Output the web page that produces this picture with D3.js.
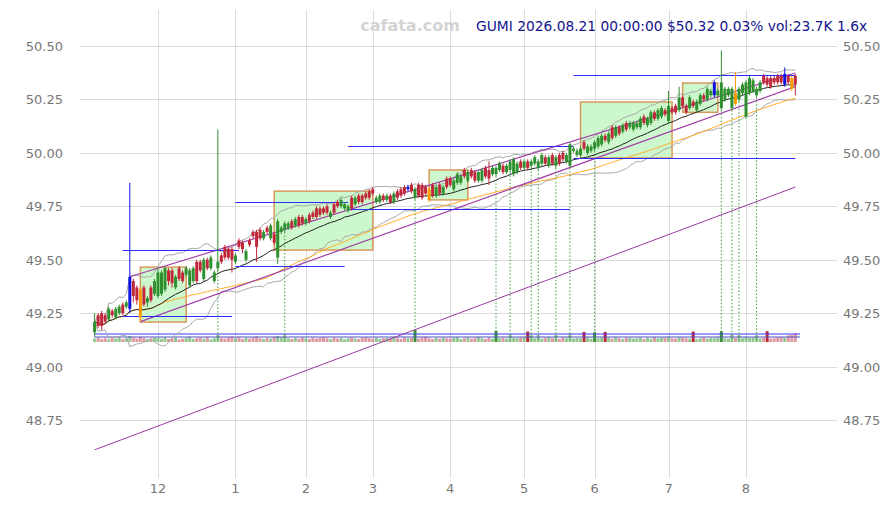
<!DOCTYPE html>
<html><head><meta charset="utf-8">
<script src="https://cdn.jsdelivr.net/npm/d3@7"></script>
<style>body{margin:0;background:#fff}svg{display:block}</style>
</head><body><svg id="c" width="893" height="505"></svg>
<script>
// ---------- data ----------
const startDate = "2025-11-04", endDate = "2026-08-21";
const holidays = ["2025-11-27","2025-12-25","2026-01-01","2026-01-19","2026-02-16","2026-04-03","2026-05-25","2026-06-19","2026-07-03"];

const open = [
49.16,49.24,49.25,49.24,49.22,49.26,49.23,49.25,49.29,49.28,49.27,49.40,49.37,49.36,49.37,49.30,49.37,49.34,
49.33,49.34,49.36,49.45,49.45,49.37,49.46,49.44,49.43,49.38,49.40,49.49,49.49,49.41,49.50,49.46,49.40,49.46,49.52,49.56,49.55,49.55,
49.49,49.59,49.58,49.50,49.59,49.63,49.63,49.64,49.60,49.65,49.60,49.62,49.51,49.63,49.64,49.65,49.68,49.66,49.70,49.70,
49.67,49.71,49.72,49.74,49.74,49.74,49.75,49.70,49.76,49.77,49.75,49.74,49.73,49.79,49.76,49.80,49.80,49.81,49.82,
49.83,49.77,49.77,49.80,49.78,49.80,49.77,49.82,49.83,49.84,49.83,49.85,49.79,49.85,49.85,49.84,49.83,49.85,49.80,49.85,49.81,49.88,
49.88,49.83,49.86,49.86,49.92,49.87,49.92,49.91,49.87,49.87,49.93,49.92,49.90,49.90,49.92,49.94,49.91,49.92,49.90,49.91,49.96,
49.93,49.96,49.94,49.95,49.93,49.95,49.98,49.94,49.99,49.94,49.99,50.00,49.96,49.94,50.01,49.99,49.99,50.05,50.00,50.01,
50.02,50.03,50.04,50.08,50.05,50.12,50.08,50.12,50.10,50.14,50.12,50.11,50.12,50.12,50.17,50.13,50.14,50.19,50.16,50.17,50.20,
50.15,50.21,50.22,50.20,50.26,50.22,50.21,50.24,50.20,50.23,50.27,50.25,50.27,50.27,50.27,50.21,50.25,50.27,50.21,50.28,50.25,50.28,
50.17,50.28,50.29,50.27,50.29,50.36,50.35,50.35,50.35,50.36,50.36,50.32,50.36,50.35,50.36];
const close = [
49.21,49.19,49.19,49.21,49.27,49.24,49.27,49.28,49.25,49.30,49.42,49.33,49.31,49.23,49.29,49.32,49.31,49.40,
49.44,49.44,49.46,49.40,49.39,49.42,49.41,49.40,49.46,49.45,49.46,49.40,49.45,49.50,49.46,49.51,49.44,49.49,49.49,49.51,49.51,49.50,
49.52,49.56,49.55,49.54,49.57,49.61,49.56,49.60,49.63,49.63,49.66,49.58,49.68,49.65,49.67,49.67,49.65,49.69,49.66,49.67,
49.69,49.68,49.70,49.70,49.71,49.72,49.72,49.72,49.72,49.75,49.78,49.76,49.75,49.74,49.79,49.77,49.77,49.79,49.79,
49.81,49.79,49.80,49.78,49.80,49.77,49.81,49.79,49.80,49.81,49.84,49.82,49.83,49.80,49.79,49.81,49.78,49.80,49.84,49.81,49.84,49.84,
49.85,49.87,49.90,49.89,49.89,49.91,49.89,49.87,49.91,49.92,49.89,49.88,49.93,49.93,49.95,49.91,49.94,49.96,49.97,49.95,49.93,
49.96,49.93,49.96,49.98,49.96,49.99,49.95,49.98,49.95,49.98,49.95,49.97,49.99,50.04,50.02,50.01,50.02,50.02,50.03,50.03,
50.05,50.07,50.08,50.06,50.09,50.07,50.12,50.09,50.13,50.11,50.14,50.14,50.14,50.16,50.14,50.16,50.19,50.16,50.20,50.21,50.18,
50.22,50.19,50.19,50.26,50.22,50.19,50.26,50.22,50.24,50.27,50.25,50.30,50.29,50.33,50.29,50.33,50.30,50.30,50.30,50.23,50.30,50.32,
50.33,50.35,50.34,50.30,50.33,50.33,50.32,50.31,50.33,50.33,50.33,50.37,50.33,50.30,50.32];
const high = [
49.25,49.25,49.26,49.25,49.28,49.27,49.28,49.29,49.30,49.31,49.86,49.41,49.38,49.37,49.38,49.33,49.38,49.41,
49.46,49.45,49.47,49.46,49.46,49.43,49.47,49.45,49.47,49.46,49.47,49.50,49.50,49.51,49.51,49.52,49.45,50.11,49.53,49.57,49.56,49.56,
49.53,49.60,49.59,49.55,49.60,49.64,49.64,49.65,49.64,49.66,49.67,49.63,49.69,49.66,49.68,49.68,49.69,49.70,49.71,49.71,
49.70,49.72,49.73,49.75,49.75,49.75,49.76,49.73,49.77,49.78,49.79,49.77,49.76,49.80,49.80,49.81,49.81,49.82,49.83,
49.84,49.80,49.81,49.81,49.81,49.81,49.82,49.83,49.84,49.85,49.85,49.86,49.84,49.86,49.86,49.85,49.84,49.86,49.85,49.86,49.85,49.89,
49.89,49.88,49.91,49.90,49.93,49.92,49.93,49.92,49.92,49.93,49.94,49.96,49.94,49.94,49.96,49.95,49.95,49.97,49.98,49.96,49.97,
49.97,49.97,49.97,49.99,49.97,50.00,49.99,49.99,50.00,49.99,50.00,50.01,50.00,50.05,50.03,50.02,50.03,50.06,50.04,50.04,
50.06,50.08,50.09,50.09,50.10,50.13,50.13,50.13,50.14,50.15,50.15,50.15,50.15,50.17,50.18,50.17,50.20,50.20,50.21,50.22,50.21,
50.29,50.22,50.23,50.31,50.27,50.23,50.27,50.25,50.25,50.28,50.28,50.31,50.30,50.34,50.30,50.48,50.31,50.31,50.31,50.38,50.31,50.33,
50.34,50.36,50.35,50.31,50.34,50.37,50.36,50.36,50.36,50.37,50.37,50.40,50.37,50.36,50.37];
const low = [
49.14,49.18,49.17,49.20,49.21,49.23,49.22,49.24,49.24,49.27,49.25,49.30,49.29,49.21,49.28,49.28,49.30,49.33,
49.32,49.33,49.35,49.38,49.37,49.36,49.40,49.39,49.42,49.37,49.39,49.39,49.44,49.40,49.45,49.45,49.39,49.44,49.48,49.50,49.50,49.44,
49.48,49.55,49.53,49.49,49.56,49.60,49.49,49.59,49.59,49.62,49.59,49.57,49.48,49.62,49.63,49.64,49.64,49.65,49.65,49.66,
49.66,49.67,49.69,49.69,49.70,49.71,49.71,49.69,49.71,49.74,49.74,49.73,49.72,49.73,49.75,49.76,49.76,49.78,49.78,
49.80,49.76,49.76,49.77,49.77,49.76,49.76,49.78,49.79,49.80,49.82,49.81,49.78,49.79,49.78,49.80,49.77,49.79,49.79,49.80,49.80,49.83,
49.84,49.82,49.85,49.85,49.88,49.86,49.88,49.86,49.86,49.86,49.88,49.85,49.89,49.89,49.91,49.90,49.90,49.91,49.89,49.90,49.92,
49.92,49.92,49.93,49.94,49.92,49.94,49.94,49.93,49.94,49.93,49.94,49.96,49.95,49.93,50.00,49.98,49.98,50.01,49.99,50.00,
50.01,50.02,50.03,50.05,50.04,50.06,50.07,50.08,50.09,50.10,50.11,50.10,50.11,50.11,50.13,50.12,50.13,50.15,50.15,50.16,50.17,
50.14,50.18,50.18,50.19,50.21,50.18,50.20,50.21,50.19,50.22,50.24,50.24,50.26,50.26,50.26,50.20,50.24,50.26,50.20,50.22,50.24,50.27,
50.16,50.27,50.28,50.26,50.28,50.32,50.31,50.30,50.32,50.32,50.32,50.31,50.32,50.29,50.27];
const volume = [
9,12,8,10,7,11,9,13,8,10,16,12,9,14,11,8,10,12,
11,9,13,8,10,12,7,9,11,14,8,10,12,9,13,7,10,20,11,9,12,14,
10,13,8,11,9,12,15,10,8,11,9,13,16,12,20,10,8,11,9,12,
10,8,12,9,11,13,10,8,12,9,11,7,10,12,9,8,11,13,10,
9,12,8,10,11,9,13,10,8,12,10,11,32,9,12,14,10,8,11,9,12,10,
9,11,13,8,10,12,9,11,14,10,8,12,9,30,10,12,9,20,11,10,12,
12,28,19,10,18,9,11,13,10,19,8,12,10,21,9,11,10,27,12,9,
26,10,12,27,11,9,13,10,8,12,11,9,10,12,8,11,9,13,10,12,11,
14,10,9,12,11,10,9,28,8,10,12,9,11,10,12,29,10,9,20,11,19,10,
14,11,12,18,10,11,29,9,10,12,13,11,18,19,23.7];

const blueIdx = [10, 89, 176, 196];
const orangeIdx = [13, 95, 182, 198];
const signalIdx = [35, 54, 91, 114, 118, 124, 126, 131, 135, 142, 178, 181, 183, 188];
const boxFrom = [13, 51, 95, 138, 167];
const boxTo = [26, 79, 106, 164, 177];
const boxTop = [49.465, 49.821, 49.92, 50.238, 50.327];
const boxBottom = [49.208, 49.545, 49.78, 49.976, 50.19];
const levelFrom = [8, 8, 40, 40, 72, 72, 136, 136];
const levelTo = [41, 39, 71, 72, 135, 136, 199, 199];
const levelValue = [49.545, 49.236, 49.47, 49.77, 49.737, 50.032, 49.976, 50.364];
const trendIdx = [0, 199], trendVal = [48.61, 49.84];
const upperIdx = [10, 199], upperVal = [49.42, 50.374];
const lowerIdx = [13, 199], lowerVal = [49.21, 50.31];
const volLevels = [21.3, 13.3];
const yTicks = [48.75, 49.00, 49.25, 49.50, 49.75, 50.00, 50.25, 50.50];
const title = "GUMI 2026.08.21 00:00:00 $50.32 0.03% vol:23.7K 1.6x";
const watermark = "cafata.com";

// ---------- dates ----------
const fmt = d3.timeFormat("%Y-%m-%d");
const dates = d3.timeDay.range(new Date(startDate + "T00:00"), d3.timeDay.offset(new Date(endDate + "T00:00"), 1))
  .filter(d => d.getDay() !== 0 && d.getDay() !== 6 && !holidays.includes(fmt(d)));

const svg = d3.select("#c");
const x = d3.scalePoint().domain(dates.map(fmt)).range([94.6, 795.3]);
const xi = i => x(fmt(dates[i]));
const y = d3.scaleLinear().domain([48.478, 50.669]).range([478, 10]);
const yv = d3.scaleLinear().domain([0, 32]).range([342, 330]);

// grid
const g = svg.append("g");
g.selectAll("line.h").data(yTicks).join("line")
  .attr("x1", 80).attr("x2", 837).attr("y1", d => Math.round(y(d)) + .5).attr("y2", d => Math.round(y(d)) + .5)
  .attr("stroke", "#dcdcdc").attr("stroke-width", 1);
const monthIdx = dates.map((d, i) => i).filter(i => i > 0 && dates[i].getMonth() !== dates[i - 1].getMonth());
g.selectAll("line.v").data(monthIdx).join("line")
  .attr("x1", i => Math.round(xi(i)) + .5).attr("x2", i => Math.round(xi(i)) + .5).attr("y1", 10).attr("y2", 478)
  .attr("stroke", "#dcdcdc").attr("stroke-width", 1);

// axis labels
const lab = svg.append("g").attr("font-family", "DejaVu Sans, sans-serif").attr("font-size", 13).attr("fill", "#777");
lab.selectAll("text.l").data(yTicks).join("text").attr("x", 63).attr("y", d => y(d) + 5).attr("text-anchor", "end").text(d => d.toFixed(2));
lab.selectAll("text.r").data(yTicks).join("text").attr("x", 843).attr("y", d => y(d) + 5).attr("text-anchor", "start").text(d => d.toFixed(2));
lab.selectAll("text.x").data(monthIdx).join("text").attr("x", i => xi(i)).attr("y", 493).attr("text-anchor", "middle").text(i => dates[i].getMonth() + 1);

// boxes
svg.append("g").selectAll("rect").data(boxFrom).join("rect")
  .attr("x", (d, k) => xi(d)).attr("width", (d, k) => xi(boxTo[k]) - xi(d))
  .attr("y", (d, k) => y(boxTop[k])).attr("height", (d, k) => y(boxBottom[k]) - y(boxTop[k]))
  .attr("fill", "#c8f7c8").attr("fill-opacity", 0.9).attr("stroke", "#d89a5a").attr("stroke-width", 1.5);

// volume
const idx = d3.range(dates.length);
const up = i => close[i] >= open[i];
svg.append("g").selectAll("rect").data(idx).join("rect")
  .attr("x", i => xi(i) - 1.5).attr("width", 3)
  .attr("y", i => yv(volume[i])).attr("height", i => yv(0) - yv(volume[i]))
  .attr("fill", i => volume[i] >= 25 ? (up(i) ? "#2e8b2e" : "#b5202c") : (up(i) ? "#6fb56f" : "#d37a84"))
  .attr("fill-opacity", i => volume[i] >= 25 ? 0.95 : 0.75);
svg.append("g").selectAll("line").data(volLevels).join("line")
  .attr("x1", 94).attr("x2", 800).attr("y1", d => yv(d)).attr("y2", d => yv(d))
  .attr("stroke", (d, k) => k ? "#5050c8" : "#3a3aff").attr("stroke-width", 1.2);

// signal dotted lines
svg.append("g").selectAll("line").data(signalIdx).join("line")
  .attr("x1", i => xi(i)).attr("x2", i => xi(i)).attr("y1", i => y(low[i])).attr("y2", yv(0))
  .attr("stroke", "#3c9a3c").attr("stroke-width", 1).attr("stroke-dasharray", "1.5,2");

// indicators
function sma(n) { return idx.map(i => d3.mean(close.slice(Math.max(0, i - n + 1), i + 1))); }
function sdev(n) { return idx.map(i => { const s = close.slice(Math.max(0, i - n + 1), i + 1); return s.length > 1 ? d3.deviation(s) : 0; }); }
const ma20 = sma(20), ma50 = sma(50), sd20 = sdev(20);
const line = d3.line().x((v, i) => xi(i)).y(v => y(v));
const ind = svg.append("g").attr("fill", "none");
ind.append("path").attr("d", line(ma20.map((m, i) => m + 2.5 * sd20[i]))).attr("stroke", "#a8a8a8").attr("stroke-width", 1);
ind.append("path").attr("d", line(ma20.map((m, i) => m - 2.5 * sd20[i]))).attr("stroke", "#a8a8a8").attr("stroke-width", 1);
ind.append("path").attr("d", line(ma50)).attr("stroke", "#ffad2a").attr("stroke-width", 1);
ind.append("path").attr("d", line(ma20)).attr("stroke", "#222").attr("stroke-width", 1);

// purple lines
const seg = (is, vs) => d3.line()(is.map((i, k) => [xi(i), y(vs[k])]));
ind.append("path").attr("d", seg(trendIdx, trendVal)).attr("stroke", "#9a3a9e").attr("stroke-width", 1);
ind.append("path").attr("d", seg(upperIdx, upperVal)).attr("stroke", "#a040a8").attr("stroke-width", 1.2);
ind.append("path").attr("d", seg(lowerIdx, lowerVal)).attr("stroke", "#a040a8").attr("stroke-width", 1.2);

// levels
svg.append("g").selectAll("line").data(levelValue).join("line")
  .attr("x1", (d, k) => xi(levelFrom[k])).attr("x2", (d, k) => xi(levelTo[k]))
  .attr("y1", d => Math.round(y(d)) + .5).attr("y2", d => Math.round(y(d)) + .5)
  .attr("stroke", "#2a2aff").attr("stroke-width", 1);

// candles
const col = i => blueIdx.includes(i) ? "#1010e0" : orangeIdx.includes(i) ? "#ff9a00" : up(i) ? "#2f902f" : "#c0283a";
const cg = svg.append("g");
cg.selectAll("line").data(idx).join("line")
  .attr("x1", i => xi(i)).attr("x2", i => xi(i)).attr("y1", i => y(high[i])).attr("y2", i => y(low[i]))
  .attr("stroke", col).attr("stroke-width", 1);
cg.selectAll("rect").data(idx).join("rect")
  .attr("x", i => xi(i) - 1.5).attr("width", 3)
  .attr("y", i => y(Math.max(open[i], close[i])))
  .attr("height", i => Math.max(1, Math.abs(y(open[i]) - y(close[i]))))
  .attr("fill", col);

// texts
svg.append("text").attr("x", 410).attr("y", 31).attr("text-anchor", "middle")
  .attr("font-family", "DejaVu Sans, sans-serif").attr("font-weight", "bold").attr("font-size", 16)
  .attr("fill", "#d4d4d4").text(watermark);
svg.append("text").attr("x", 476).attr("y", 31)
  .attr("font-family", "DejaVu Sans, sans-serif").attr("font-size", 13.8)
  .attr("fill", "#14148c").text(title);
</script>
</body></html>
